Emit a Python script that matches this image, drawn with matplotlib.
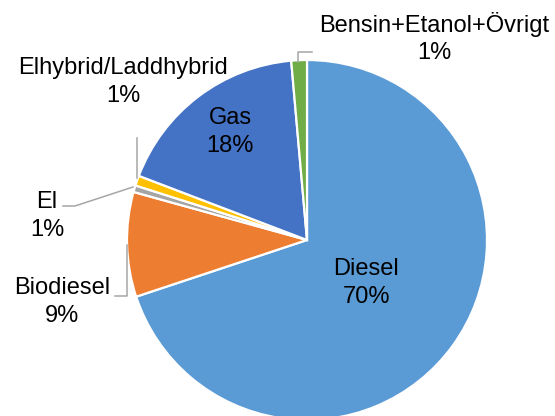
import matplotlib.pyplot as plt

plt.rcParams['font.family'] = ['Liberation Sans', 'DejaVu Sans']

categories = ["Diesel", "Biodiesel", "El", "Elhybrid/Laddhybrid", "Gas", "Bensin+Etanol+Övrigt"]
shares = [69.9, 9.4, 0.6, 0.9, 17.8, 1.4]
colors = ["#5B9BD5", "#ED7D31", "#A5A5A5", "#FFC000", "#4472C4", "#70AD47"]

W, H = 555, 416
fig = plt.figure(figsize=(W / 100, H / 100), dpi=100)
ax = fig.add_axes([0, 0, 1, 1])

cx, cy, r = 307, H - 240, 180
ax.pie(shares, colors=colors, startangle=90, counterclock=False,
       center=(cx, cy), radius=r, frame=False,
       wedgeprops=dict(edgecolor='white', linewidth=1.6))
ax.set_xlim(0, W)
ax.set_ylim(0, H)
ax.set_aspect('equal')
ax.axis('off')

# label positions in pixel coords (from top-left)
label_pos = [(366, 283), (62, 302), (47, 216), (123, 82), (230, 132), (434, 38)]
for name, val, (x, y) in zip(categories, shares, label_pos):
    ax.text(x, H - y, f"{name}\n{val:.0f}%", ha='center', va='center',
            fontsize=17, color='black', linespacing=1.3)

# leader lines
leaders = [
    [(127, 245), (127, 296), (115, 296)],
    [(133, 187), (75, 206), (63, 206)],
    [(137, 178), (137, 138)],
    [(298, 62), (298, 52), (312, 52)],
]
for pts in leaders:
    xs = [p[0] for p in pts]
    ys = [H - p[1] for p in pts]
    ax.plot(xs, ys, color='#A6A6A6', lw=1.1)

fig.savefig("out.png", dpi=100)
